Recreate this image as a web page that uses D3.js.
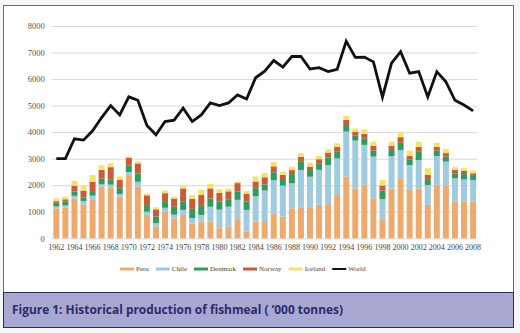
<!DOCTYPE html>
<html>
<head>
<meta charset="utf-8">
<script src="https://cdn.jsdelivr.net/npm/d3@7/dist/d3.min.js"></script>
<style>
html, body { margin: 0; padding: 0; background: #f6f6f9; }
svg { display: block; }
</style>
</head>
<body>
<svg id="chart" width="520" height="333"></svg>
<script>
// Fishmeal production chart ('000 tonnes)

const years = [1962, 1963, 1964, 1965, 1966, 1967, 1968, 1969, 1970, 1971,
    1972, 1973, 1974, 1975, 1976, 1977, 1978, 1979, 1980, 1981,
    1982, 1983, 1984, 1985, 1986, 1987, 1988, 1989, 1990, 1991,
    1992, 1993, 1994, 1995, 1996, 1997, 1998, 1999, 2000, 2001,
    2002, 2003, 2004, 2005, 2006, 2007, 2008];

const peru = [1120, 1150, 1500, 1280, 1445, 1950, 1900, 1570, 2350, 1950,
    880, 440, 1000, 750, 880, 560, 620, 630, 380, 440,
    690, 250, 630, 650, 940, 815, 1130, 1170, 1170, 1260,
    1290, 1630, 2320, 1880, 2000, 1510, 720, 1880, 2260, 1820,
    1880, 1260, 1970, 1970, 1380, 1380, 1380];
const chile = [80, 90, 100, 120, 160, 80, 120, 100, 150, 180,
    120, 130, 150, 140, 190, 200, 260, 560, 700, 750,
    760, 820, 950, 1150, 1250, 1170, 940, 1400, 1150, 1320,
    1470, 1380, 1700, 1800, 1520, 1570, 760, 1220, 1070, 940,
    1070, 750, 1130, 920, 880, 840, 820];
const denmark = [140, 150, 160, 130, 175, 220, 200, 220, 250, 310,
    250, 250, 250, 300, 310, 350, 370, 310, 310, 260,
    320, 310, 310, 230, 300, 250, 350, 310, 250, 250,
    290, 250, 250, 200, 250, 230, 320, 230, 280, 210,
    310, 220, 200, 190, 190, 200, 150];
const norway = [60, 80, 220, 270, 350, 330, 460, 310, 280, 380,
    370, 270, 300, 310, 500, 380, 380, 380, 320, 320,
    310, 300, 250, 270, 220, 160, 150, 190, 130, 150,
    180, 190, 190, 140, 160, 180, 190, 150, 200, 130,
    190, 160, 150, 130, 130, 130, 100];
const iceland = [100, 100, 190, 170, 250, 170, 150, 130, 50, 70,
    60, 80, 100, 70, 90, 140, 200, 170, 140, 100,
    60, 100, 190, 160, 170, 120, 130, 130, 150, 120,
    120, 130, 150, 120, 170, 160, 210, 160, 170, 200,
    190, 250, 150, 150, 100, 90, 100];
const world = [3000, 3000, 3750, 3700, 4050, 4550, 5000, 4650, 5330, 5200,
    4250, 3900, 4400, 4450, 4900, 4400, 4650, 5100, 5000, 5100,
    5400, 5250, 6050, 6300, 6700, 6450, 6850, 6850, 6380, 6430,
    6280, 6370, 7430, 6820, 6830, 6650, 5320, 6600, 7030, 6220,
    6280, 5330, 6280, 5900, 5200, 5020, 4800];

const seriesNames = ['Peru', 'Chile', 'Denmark', 'Norway', 'Iceland'];
const seriesValues = [peru, chile, denmark, norway, iceland];
const seriesColors = ['#eeaa6c', '#9fcbe0', '#2e9c5c', '#c95a3a', '#f6e264'];

const yTicks = [0, 1000, 2000, 3000, 4000, 5000, 6000, 7000, 8000];
const xTickYears = [1962, 1964, 1966, 1968, 1970, 1972, 1974, 1976, 1978, 1980,
    1982, 1984, 1986, 1988, 1990, 1992, 1994, 1996, 1998, 2000,
    2002, 2004, 2006, 2008];

const caption = 'Figure 1: Historical production of fishmeal ( \u2019000 tonnes)';

const svg = d3.select('#chart');

// panel + caption band
svg.append('rect')
    .attr('x', 3.5).attr('y', 5.5).attr('width', 510).attr('height', 287)
    .attr('fill', '#ffffff').attr('stroke', '#6d6d78').attr('stroke-width', 1);
svg.append('rect')
    .attr('x', 3.5).attr('y', 292.5).attr('width', 510).attr('height', 35)
    .attr('fill', '#a9a8d3').attr('stroke', '#2c2c5c').attr('stroke-width', 1);
svg.append('text')
    .attr('x', 12).attr('y', 314)
    .attr('font-family', '"Open Sans", sans-serif')
    .attr('font-weight', 'bold')
    .attr('font-size', 13)
    .attr('fill', '#2b2c6a')
    .attr('textLength', 331)
    .attr('lengthAdjust', 'spacingAndGlyphs')
    .text(caption);

// plot
const plot = { left: 51.8, right: 477.6, top: 26, bottom: 238.3 };

const x = d3.scaleBand().domain(years).range([plot.left, plot.right])
    .paddingInner(0.34).paddingOuter(0.17);
const y = d3.scaleLinear().domain([0, 8000]).range([plot.bottom, plot.top]);

// gridlines
svg.append('g')
    .attr('transform', `translate(${plot.left},0)`)
    .call(d3.axisLeft(y).tickValues(yTicks).tickSize(-(plot.right - plot.left)).tickFormat(''))
    .call(g => g.select('.domain').remove())
    .selectAll('line')
    .attr('stroke', '#d8d8d8');

// y labels
svg.append('g')
    .attr('transform', `translate(${plot.left},0)`)
    .call(d3.axisLeft(y).tickValues(yTicks).tickSize(0).tickPadding(7).tickFormat(d3.format('d')))
    .call(g => g.select('.domain').remove())
    .selectAll('text')
    .attr('font-family', '"Liberation Serif", serif')
    .attr('font-size', 8.5)
    .attr('fill', '#555');

// x labels
svg.append('g')
    .attr('transform', `translate(0,${plot.bottom})`)
    .call(d3.axisBottom(x).tickValues(xTickYears).tickSize(0).tickPadding(6))
    .call(g => g.select('.domain').remove())
    .selectAll('text')
    .attr('font-family', '"Liberation Serif", serif')
    .attr('font-size', 8)
    .attr('fill', '#444');

// stacked bars
const table = years.map((yr, i) => {
    const row = { year: yr };
    seriesNames.forEach((n, k) => { row[n] = seriesValues[k][i]; });
    return row;
});
const stacked = d3.stack().keys(seriesNames)(table);

svg.append('g').selectAll('g')
    .data(stacked)
    .join('g')
    .attr('fill', (d, i) => seriesColors[i])
    .selectAll('rect')
    .data(d => d)
    .join('rect')
    .attr('x', d => x(d.data.year))
    .attr('y', d => y(d[1]))
    .attr('width', x.bandwidth())
    .attr('height', d => y(d[0]) - y(d[1]));

// world line
const line = d3.line()
    .x((d, i) => x(years[i]) + x.bandwidth() / 2)
    .y(d => y(d));
svg.append('path')
    .datum(world)
    .attr('d', line)
    .attr('fill', 'none')
    .attr('stroke', '#111')
    .attr('stroke-width', 2.8)
    .attr('stroke-linejoin', 'miter');

// legend
const legendItems = seriesNames.map((n, i) => ({ name: n, color: seriesColors[i], w: 3 }))
    .concat([{ name: 'World', color: '#111', w: 2 }]);
const legend = svg.append('g').attr('transform', 'translate(120,269)');
let lx = 0;
legendItems.forEach(item => {
    legend.append('line')
        .attr('x1', lx).attr('x2', lx + 14)
        .attr('y1', 0).attr('y2', 0)
        .attr('stroke', item.color).attr('stroke-width', item.w);
    const t = legend.append('text')
        .attr('x', lx + 16).attr('y', 0).attr('dy', '0.32em')
        .attr('font-family', '"Liberation Serif", serif')
        .attr('font-size', 7)
        .attr('fill', '#444')
        .text(item.name);
    lx += 16 + t.node().getComputedTextLength() + 7;
});
</script>
</body>
</html>
